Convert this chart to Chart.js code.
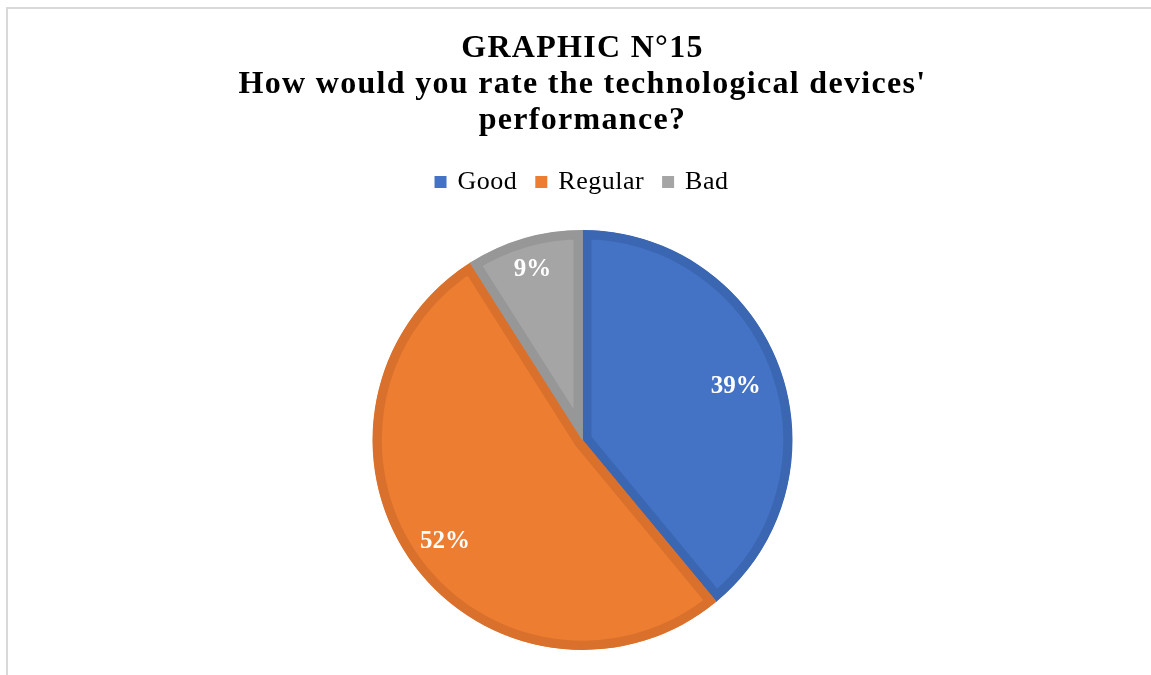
<!DOCTYPE html>
<html>
<head>
<meta charset="utf-8">
<script src="https://cdn.jsdelivr.net/npm/chart.js@4/dist/chart.umd.min.js"></script>
<style>
  html, body { margin: 0; padding: 0; background: #fff; overflow: hidden; }
  #frame {
    position: absolute; left: 6px; top: 7px;
    width: 1145px; height: 668px;
    border-left: 2px solid #d9d9d9; border-top: 2px solid #d9d9d9;
  }
  #canvas { display: block; }
</style>
</head>
<body>
<div id="frame"><canvas id="canvas" width="1143" height="666"></canvas></div>
<script>
var titulo = ["GRAPHIC N°15", "How would you rate the technological devices'", "performance?"];
var categorias = ["Good", "Regular", "Bad"];
var porcentajes = [39, 52, 9];
var colores = ["#4472C4", "#ED7D31", "#A5A5A5"];
var bordes = ["#3B66B2", "#D9712C", "#979797"];

var serif = "'Liberation Serif', 'Times New Roman', serif";

// percentage text inside each slice
var etiquetas = {
  id: 'etiquetas',
  afterDatasetsDraw: function(chart, args, opts) {
    var ctx = chart.ctx;
    var meta = chart.getDatasetMeta(0);
    ctx.save();
    ctx.letterSpacing = '0px';
    ctx.fillStyle = '#ffffff';
    ctx.font = 'bold 25px ' + serif;
    ctx.textAlign = 'center';
    ctx.textBaseline = 'middle';
    meta.data.forEach(function(arc, i) {
      var p = arc.getProps(['x', 'y', 'startAngle', 'endAngle', 'outerRadius'], true);
      var mid = (p.startAngle + p.endAngle) / 2;
      var r = p.outerRadius * opts.distancias[i];
      ctx.fillText(porcentajes[i] + '%', p.x + Math.cos(mid) * r, p.y + Math.sin(mid) * r + 2);
    });
    ctx.restore();
  }
};

// wider letter spacing for title and legend, extra room under the legend
function conEspaciado(fn, box, px) {
  return function() {
    var ctx = box.ctx;
    var prev = ctx.letterSpacing;
    ctx.letterSpacing = px;
    var out = fn.apply(box, arguments);
    ctx.letterSpacing = prev;
    return out;
  };
}
var ajustes = {
  id: 'ajustes',
  beforeInit: function(chart) {
    var t = chart.titleBlock;
    t.draw = conEspaciado(t.draw, t, '1.3px');
    var l = chart.legend;
    var fit = conEspaciado(l.fit, l, '0.5px');
    l.fit = function() {
      fit();
      this.height += 25;
    };
    l.draw = conEspaciado(l.draw, l, '0.5px');
  }
};

var ctx = document.getElementById("canvas");
window.myPie = new Chart(ctx, {
  type: 'pie',
  data: {
    labels: categorias,
    datasets: [{
      data: porcentajes,
      backgroundColor: colores,
      borderColor: bordes,
      borderWidth: 9,
      borderAlign: 'inner',
      hoverOffset: 0
    }]
  },
  options: {
    responsive: false,
    animation: false,
    layout: { padding: { left: 6, bottom: 25 } },
    plugins: {
      title: {
        display: true,
        text: titulo,
        color: '#000000',
        font: { family: serif, size: 32, weight: 'bold', lineHeight: '36px' },
        padding: { top: 22, bottom: 10 }
      },
      legend: {
        position: 'top',
        labels: {
          color: '#595959',
          font: { family: serif, size: 26 },
          usePointStyle: true,
          boxWidth: 8,
          boxHeight: 12,
          padding: 20,
          generateLabels: function(chart) {
            return categorias.map(function(c, i) {
              return { text: c, fillStyle: colores[i], strokeStyle: colores[i], lineWidth: 0, pointStyle: 'rect', index: i };
            });
          }
        }
      },
      etiquetas: { distancias: [0.776, 0.81, 0.855] },
      tooltip: { enabled: false }
    }
  },
  plugins: [etiquetas, ajustes]
});
</script>
</body>
</html>
